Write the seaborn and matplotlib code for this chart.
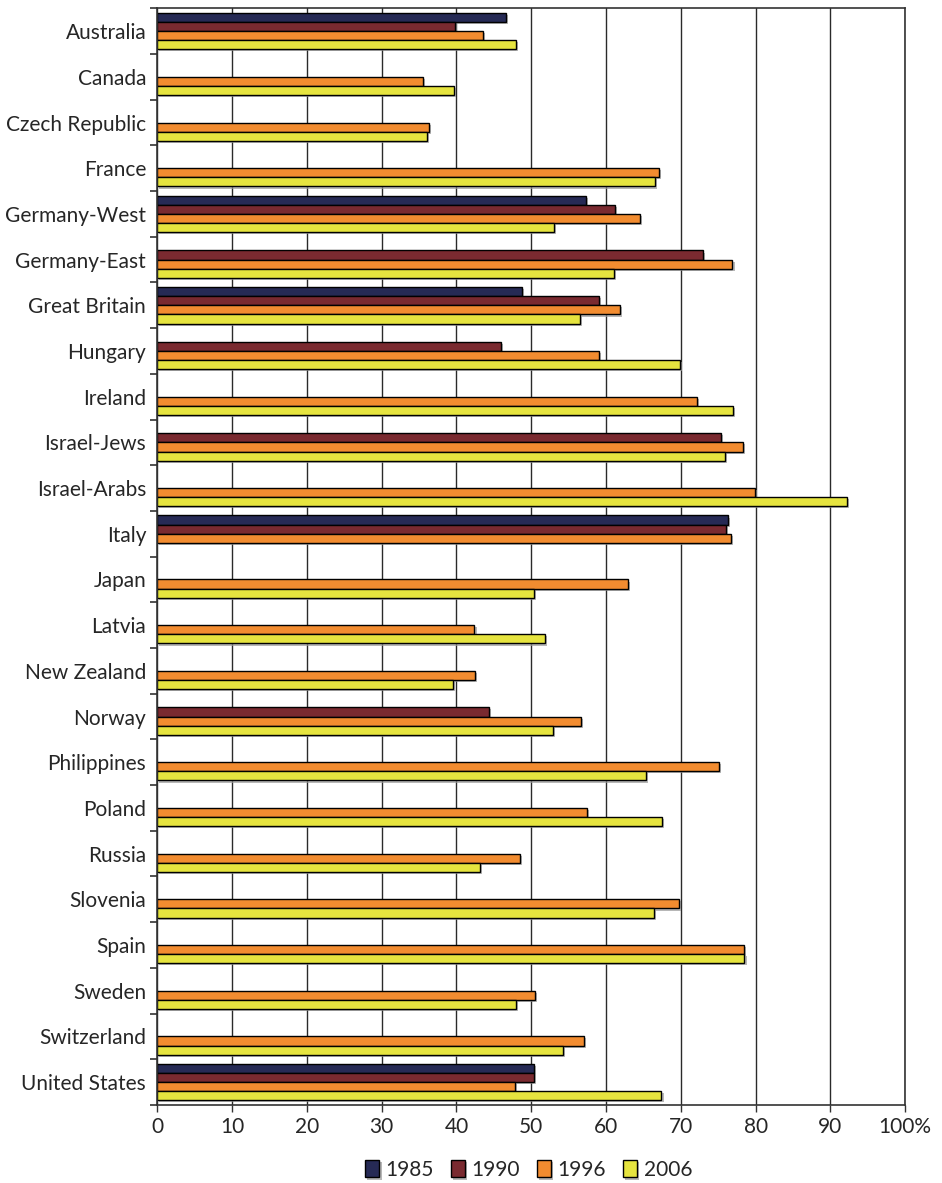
import numpy as np
import pandas as pd
import matplotlib.pyplot as plt
import matplotlib.patheffects as pe
import seaborn as sns

# Data
countries = [
    'Australia', 'Canada', 'Czech Republic', 'France', 'Germany-West',
    'Germany-East', 'Great Britain', 'Hungary', 'Ireland', 'Israel-Jews',
    'Israel-Arabs', 'Italy', 'Japan', 'Latvia', 'New Zealand', 'Norway',
    'Philippines', 'Poland', 'Russia', 'Slovenia', 'Spain', 'Sweden',
    'Switzerland', 'United States'
]
years = ['1985', '1990', '1996', '2006']
nan = np.nan
v1985 = [46.6, nan, nan, nan, 57.3, nan, 48.7, nan, nan, nan, nan, 76.3,
         nan, nan, nan, nan, nan, nan, nan, nan, nan, nan, nan, 50.3]
v1990 = [39.8, nan, nan, nan, 61.2, 72.9, 59.0, 46.0, nan, 75.4, nan, 76.0,
         nan, nan, nan, 44.3, nan, nan, nan, nan, nan, nan, nan, 50.4]
v1996 = [43.5, 35.5, 36.3, 67.1, 64.5, 76.9, 61.9, 59.0, 72.1, 78.3, 79.9, 76.7,
         62.9, 42.4, 42.5, 56.7, 75.1, 57.5, 48.5, 69.7, 78.4, 50.5, 57.0, 47.8]
v2006 = [48.0, 39.6, 36.1, 66.5, 53.0, 61.1, 56.5, 69.9, 77.0, 75.9, 92.2, nan,
         50.4, 51.8, 39.5, 52.9, 65.3, 67.5, 43.1, 66.4, 78.5, 47.9, 54.2, 67.4]
colors = ['#262a55', '#7a2a30', '#f28c30', '#e6e43f']

df = pd.DataFrame({'country': countries, '1985': v1985, '1990': v1990,
                   '1996': v1996, '2006': v2006})
long = df.melt(id_vars='country', var_name='year', value_name='value')

sns.set_style('white')
plt.rcParams['font.family'] = ['Lato', 'DejaVu Sans']

fig, ax = plt.subplots(figsize=(9.42, 11.83), dpi=100)
fig.subplots_adjust(left=0.167, right=0.961, top=0.993, bottom=0.066)

sns.barplot(data=long, y='country', x='value', hue='year',
            order=countries, hue_order=years, palette=colors,
            orient='h', width=0.8, edgecolor='black', linewidth=1,
            saturation=1, errorbar=None, ax=ax)

for p in ax.patches:
    p.set_path_effects([pe.SimplePatchShadow(offset=(1.5, -1.5),
                                             shadow_rgbFace='#999999',
                                             alpha=0.7), pe.Normal()])

ax.set_xlim(0, 100)
ax.set_ylim(len(countries) - 0.5, -0.5)
ax.set_xticks(range(0, 101, 10))
ax.set_xticklabels([str(t) for t in range(0, 100, 10)] + ['100%'])
ax.xaxis.grid(True, color='#2a2a2a', linewidth=1)
ax.set_axisbelow(True)

ax.set_yticks(range(len(countries)))
ax.set_yticklabels(countries)
ax.set_yticks(np.arange(-0.5, len(countries), 1), minor=True)
ax.tick_params(axis='y', which='major', length=0, pad=8, labelsize=15)
ax.tick_params(axis='y', which='minor', length=5, width=1.2, color='#333333', left=True)
ax.tick_params(axis='x', length=5, width=1, color='#333333', bottom=True,
               labelsize=15, pad=4)
ax.set_xlabel('')
ax.set_ylabel('')

for s in ax.spines.values():
    s.set_color('#333333')
    s.set_linewidth(1.2)

ax.legend(loc='center', bbox_to_anchor=(0.561, 0.011),
          bbox_transform=fig.transFigure, ncol=4, borderpad=0.1,
          frameon=False, fontsize=15, handlelength=0.7, handleheight=0.9,
          handletextpad=0.3, columnspacing=0.8)

fig.savefig('out.png', dpi=100)
